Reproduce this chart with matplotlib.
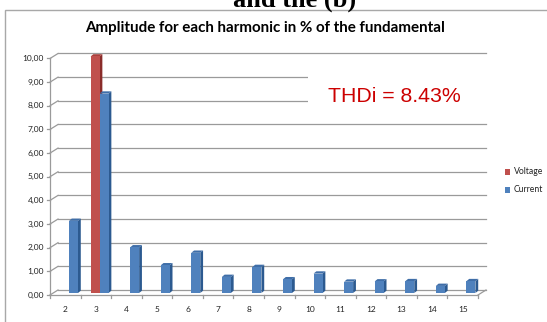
import matplotlib
matplotlib.use("Agg")
import matplotlib.pyplot as plt
from matplotlib.patches import Polygon, Rectangle
from matplotlib.lines import Line2D

# ---- data ----
harmonics = [2, 3, 4, 5, 6, 7, 8, 9, 10, 11, 12, 13, 14, 15]
voltage = [0, 10.0, 0, 0, 0, 0, 0, 0, 0, 0, 0, 0, 0, 0]
current = [3.05, 8.43, 1.93, 1.17, 1.70, 0.68, 1.10, 0.58, 0.82, 0.48, 0.49, 0.50, 0.30, 0.50]
yticks = [0, 1, 2, 3, 4, 5, 6, 7, 8, 9, 10]
series_names = ["Voltage", "Current"]
title = "Amplitude for each harmonic in % of the fundamental"
thd_text = "THDi = 8.43%"

W, H, DPI = 547, 322, 100
fig = plt.figure(figsize=(W / DPI, H / DPI), dpi=DPI)
fig.patch.set_facecolor("white")

# back wall of the pseudo-3D plot (pixel geometry)
bx0, bx1, by0, by1 = 58, 486, 290, 53.5
ax = fig.add_axes([bx0 / W, (H - by0) / H, (bx1 - bx0) / W, (by0 - by1) / H])
ax.set_xlim(harmonics[0] - 0.5, harmonics[-1] + 0.5)
ax.set_ylim(0, 10)
ax.axis("off")

kx = (harmonics[-1] - harmonics[0] + 1) / (bx1 - bx0)   # data units per px
ky = 10 / (by0 - by1)

FX, FY = -8, -5      # front edge offset (px)
MX, MY = -4.3, -3    # bars (mid-depth) offset
DX, DY = 2.8, 2.3    # bar depth
bw = 9 * kx
grid_c = "#9a9a9a"
xmin, xmax = harmonics[0] - 0.5, harmonics[-1] + 0.5

def L(xs, ys, **kw):
    ax.add_line(Line2D(xs, ys, clip_on=False, **kw))

# gridlines on back wall + side wall
for v in yticks:
    L([xmin, xmax], [v, v], color=grid_c, lw=0.9, zorder=1)
    L([xmin + FX * kx, xmin], [v + FY * ky, v], color=grid_c, lw=0.9, zorder=1)
    L([xmin + FX * kx - 3 * kx, xmin + FX * kx], [v + FY * ky, v + FY * ky], color=grid_c, lw=0.9, zorder=1)
    ax.text(xmin + FX * kx - 6 * kx, v + FY * ky, f"{v:.2f}".replace(".", ","),
            ha="right", va="center", fontsize=6, family="Lato", color="#222222")

# floor / axes
L([xmin + FX * kx, xmin + FX * kx], [FY * ky, 10 + FY * ky], color=grid_c, lw=0.9, zorder=1)
L([xmin + FX * kx, xmax + FX * kx], [FY * ky, FY * ky], color=grid_c, lw=0.9, zorder=1)
L([xmax + FX * kx, xmax], [FY * ky, 0], color=grid_c, lw=0.9, zorder=1)
for k in range(len(harmonics) + 1):
    xb = xmin + k + FX * kx
    L([xb, xb], [FY * ky, FY * ky - 3 * ky], color=grid_c, lw=0.9, zorder=1)
for h in harmonics:
    ax.text(h + FX * kx, FY * ky - 15 * ky, str(h), ha="center", va="center",
            fontsize=6, family="Lato", color="#222222")

# white text box covering gridlines
ax.add_patch(Rectangle(((308 - bx0) / (bx1 - bx0), (by0 - 112) / (by0 - by1)),
                       1.03 - (308 - bx0) / (bx1 - bx0), (112 - 64) / (by0 - by1),
                       transform=ax.transAxes, facecolor="white", edgecolor="none",
                       zorder=2, clip_on=False))
ax.text(((328 + 461) / 2 - bx0) / (bx1 - bx0), (by0 - 97) / (by0 - by1), thd_text,
        transform=ax.transAxes, ha="center", va="center", fontsize=15.3,
        family="Liberation Sans", color="#cc0000", zorder=3)

def bar3d(x0, v, front, side, top):
    if v <= 0:
        return
    x0 = x0 + MX * kx
    y0 = MY * ky
    x1 = x0 + bw
    dx, dy = DX * kx, DY * ky
    ax.add_patch(Polygon([(x1, y0), (x1 + dx, y0 + dy), (x1 + dx, y0 + v + dy), (x1, y0 + v)],
                         closed=True, facecolor=side, edgecolor="none", zorder=4, clip_on=False))
    ax.add_patch(Polygon([(x0, y0 + v), (x1, y0 + v), (x1 + dx, y0 + v + dy), (x0 + dx, y0 + v + dy)],
                         closed=True, facecolor=top, edgecolor="none", zorder=4, clip_on=False))
    ax.add_patch(Rectangle((x0, y0), bw, v, facecolor=front, edgecolor="none",
                           zorder=5, clip_on=False))

vcol = ("#c0504d", "#8a2c2a", "#a8403d")
ccol = ("#4f81bd", "#2c5a90", "#3f6ea8")
for h, vv, cv in zip(harmonics, voltage, current):
    bar3d(h - bw, vv, *vcol)
    bar3d(h, cv, *ccol)

# legend
for i, (name, col) in enumerate(zip(series_names, [vcol[0], ccol[0]])):
    yy = 172 + i * 18
    fig.patches.append(Rectangle((505 / W, (H - yy - 2.7) / H), 5.4 / W, 5.4 / H,
                                 transform=fig.transFigure, facecolor=col, edgecolor="none"))
    fig.text(514 / W, (H - yy) / H, name, ha="left", va="center", fontsize=6.2,
             family="Lato", color="#222222")

# chart frame
fig.patches.append(Rectangle((5 / W, -0.2), 1.2, (H - 9.5) / H + 0.2,
                             transform=fig.transFigure, facecolor="none",
                             edgecolor="#a8a8a8", lw=1.0))
fig.text(265 / W, (H - 28) / H, title, ha="center", va="center", fontsize=10.9,
         family="Lato", weight="bold", color="black")

# cropped caption text above the chart
fig.text(295 / W, (H - 7) / H, "and the (b)", ha="center", va="baseline",
         fontsize=19, family="Liberation Serif", weight="bold", color="black")

fig.savefig("out.png", dpi=DPI)
